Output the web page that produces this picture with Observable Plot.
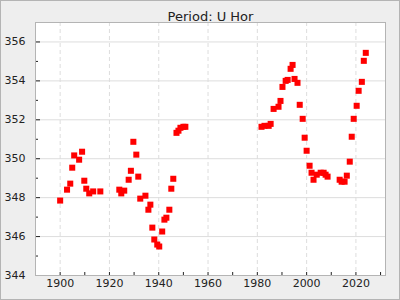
<!DOCTYPE html>
<html>
<head>
<meta charset="utf-8">
<script src="https://cdn.jsdelivr.net/npm/d3@7"></script>
<script src="https://cdn.jsdelivr.net/npm/@observablehq/plot@0.6"></script>
<style>
  body { margin: 0; }
  #wrap { position: relative; width: 400px; height: 300px; }
  #border { position: absolute; left: 0; top: 0; width: 400px; height: 300px; box-sizing: border-box; border: 1px solid #b4b4b4; pointer-events: none; }
</style>
</head>
<body>
<div id="wrap"><div id="border"></div></div>
<script>
const title = "Period: U Hor";
const years = [1900.0,1902.8,1904.1,1904.9,1905.7,1907.7,1908.9,1909.8,1910.6,1911.8,1913.4,1916.3,1924.0,1924.8,1926.0,1927.8,1928.7,1929.7,1930.9,1931.7,1932.5,1934.6,1935.8,1936.6,1937.4,1938.2,1939.4,1940.2,1941.4,1942.3,1943.1,1944.3,1945.1,1945.9,1947.2,1948.0,1948.8,1950.0,1950.8,1981.7,1982.9,1984.6,1985.4,1986.6,1988.6,1989.4,1990.2,1991.5,1992.3,1993.5,1994.3,1995.1,1996.3,1997.2,1998.4,1999.2,2000.0,2001.2,2002.0,2002.8,2004.1,2005.7,2006.9,2007.7,2008.5,2013.4,2014.2,2015.4,2016.3,2017.5,2018.3,2019.1,2020.3,2021.1,2022.4,2023.2,2024.0];
const periods = [347.85,348.41,348.72,349.54,350.17,349.95,350.36,348.87,348.46,348.22,348.32,348.32,348.41,348.22,348.36,348.92,349.38,350.87,350.21,349.08,347.95,348.10,347.38,347.64,346.46,345.85,345.59,345.49,346.26,346.87,346.97,347.38,348.46,348.97,351.33,351.44,351.59,351.64,351.64,351.64,351.69,351.69,351.79,352.56,352.67,352.97,353.69,354.00,354.05,354.62,354.82,354.10,353.90,352.77,352.05,351.08,350.41,349.64,349.28,348.92,349.18,349.28,349.28,349.18,349.08,348.92,348.82,348.82,349.13,349.85,351.13,352.05,352.72,353.49,353.95,355.03,355.44];
const xTicks = [1900,1920,1940,1960,1980,2000,2020];
const xMinor = [1890,1900,1910,1920,1930,1940,1950,1960,1970,1980,1990,2000,2010,2020,2030];
const yTicks = [344,346,348,350,352,354,356];
const yMinor = [345,347,349,351,353,355];
const xDomain = [1890, 2032];
const yDomain = [344, 357];

const data = years.map((y, i) => ({year: y, period: periods[i]}));
const W = 400, H = 300, mL = 35, mR = 15, mT = 22, mB = 25;
const innerW = W - mL - mR, innerH = H - mT - mB;

const chart = Plot.plot({
  width: W, height: H,
  marginLeft: mL, marginRight: mR, marginTop: mT, marginBottom: mB,
  style: {fontFamily: "DejaVu Sans", fontSize: "11px", background: "#eeeeee", color: "#222"},
  x: {domain: xDomain, label: null},
  y: {domain: yDomain, label: null},
  marks: [
    Plot.frame({fill: "white", stroke: "none"}),
    Plot.ruleY(yTicks.slice(1), {stroke: "#dddddd"}),
    Plot.ruleX(xTicks, {stroke: "#dddddd", strokeDasharray: "4,3"}),
    Plot.ruleY(yTicks, {stroke: "#222", insetRight: innerW - 5}),
    Plot.ruleY(yMinor, {stroke: "#222", insetRight: innerW - 3}),
    Plot.ruleX(xMinor, {stroke: "#222", insetTop: innerH - 3}),
    Plot.axisX({ticks: xTicks, tickSize: 0, tickPadding: 4, tickFormat: d => String(d), fill: "#222", label: null}),
    Plot.axisY({ticks: yTicks, tickSize: 0, tickPadding: 10, tickFormat: d => String(d), fill: "#222", label: null}),
    Plot.dot(data, {x: "year", y: "period", symbol: "square", r: 3.4, fill: "#ff0000", stroke: "none"}),
    Plot.frame({stroke: "#b4b4b4"}),
    Plot.text([title], {frameAnchor: "top", dy: -11, fontSize: 13, fill: "#222"})
  ]
});
document.getElementById("wrap").prepend(chart);
</script>
</body>
</html>
